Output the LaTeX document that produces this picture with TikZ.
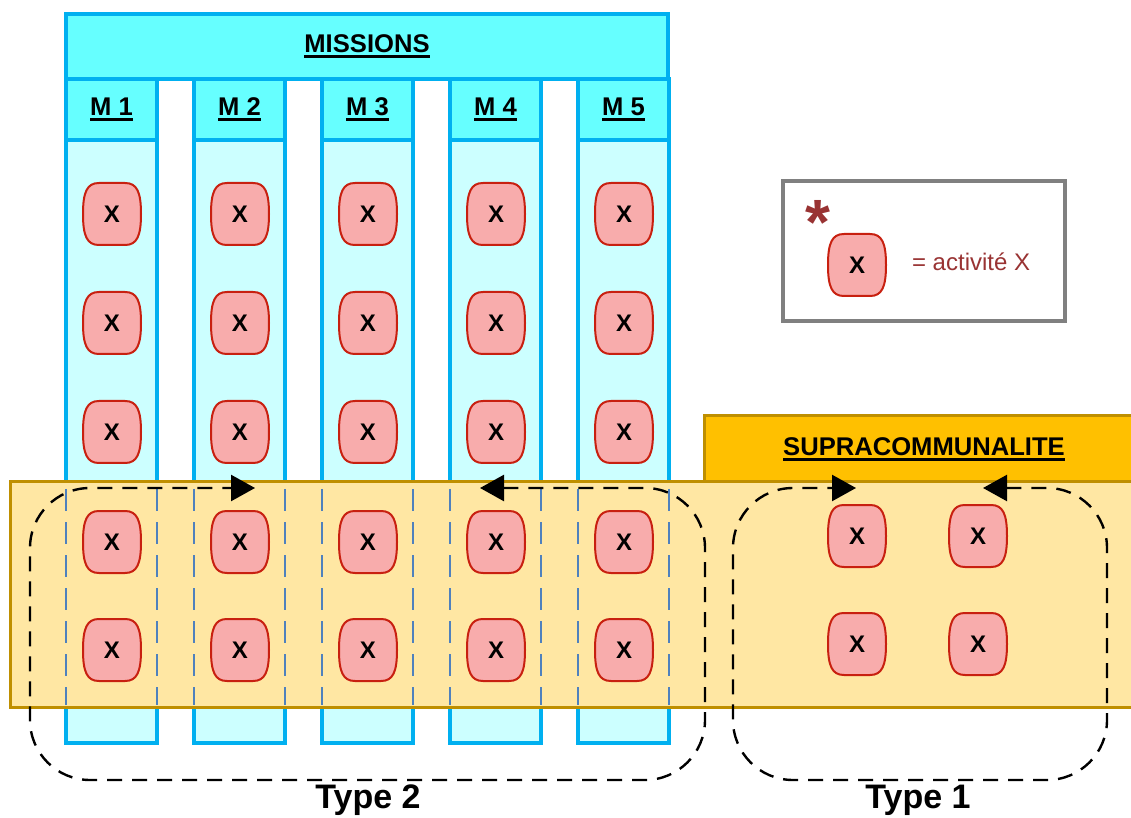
\documentclass[tikz,border=0pt]{standalone}
\usepackage{fontspec}
\setmainfont{Liberation Sans}
\usetikzlibrary{arrows.meta}

\definecolor{misshead}{HTML}{66FFFF}
\definecolor{misslight}{HTML}{CCFFFF}
\definecolor{missline}{HTML}{00B0F0}
\definecolor{actfill}{HTML}{F8ACAC}
\definecolor{actline}{HTML}{C82010}
\definecolor{bandfill}{HTML}{FFE7A3}
\definecolor{bandline}{HTML}{BF8F00}
\definecolor{suprafill}{HTML}{FFC000}
\definecolor{colsep}{HTML}{4F81BD}
\definecolor{legline}{HTML}{808080}
\definecolor{legtext}{HTML}{993333}

% titre souligne epais
\newcommand{\hdr}[1]{\setbox0\hbox{#1}\rlap{\rule[-2.6pt]{\wd0}{1.3pt}}\box0}

% activite : forme en tonneau + lettre X
\newcommand{\activite}[2]{%
	\draw[actshape, shift={(#2)}] (-13,-31) -- (13,-31)
		.. controls (25,-31) and (29,-22) .. (29,0)
		.. controls (29,22) and (25,31) .. (13,31) -- (-13,31)
		.. controls (-25,31) and (-29,22) .. (-29,0)
		.. controls (-29,-22) and (-25,-31) .. cycle;
	\node[act] (#1) at (#2) {X};}

\begin{document}
\begin{tikzpicture}[x=0.5pt,y=-0.5pt,
	actshape/.style={draw=actline, fill=actfill, line width=1pt},
	act/.style={inner sep=0pt, font=\fontsize{12}{14}\selectfont\bfseries},
	colhead/.style={draw=missline, fill=misshead, line width=2pt,
		minimum width=45.5pt, minimum height=30.5pt, inner sep=0pt,
		font=\fontsize{12.8}{15}\selectfont\bfseries},
	title/.style={font=\fontsize{12.8}{15}\selectfont\bfseries},
	loop/.style={black, line width=1.2pt, dash pattern=on 7.5pt off 5pt,
		rounded corners=30pt, {Triangle[length=12pt,width=13pt]}-{Triangle[length=12pt,width=13pt]}},
	typelbl/.style={font=\fontsize{17}{20}\selectfont\bfseries}]
	
	\useasboundingbox (0,0) rectangle (1131,818);
	
	% Colonnes des missions
	\foreach \i in {1,...,5} {
		\pgfmathsetmacro{\xl}{66+128*(\i-1)}
		\draw[missline, fill=misslight, line width=2pt] (\xl,140) rectangle (\xl+91,743);
		\node[colhead] (m\i) at (\xl+45.5,109.5) {\hdr{M \i}};
	}
	
	% Bandeau des missions
	\node[colhead, minimum width=301pt, minimum height=32.5pt] (missions) at (367,46.5) {\hdr{MISSIONS}};
	
	% Supracommunalite
	\draw[bandline, fill=suprafill, line width=1.5pt] (704,416) rectangle (1145,482);
	\node[title] (supra) at (924,449) {\hdr{SUPRACOMMUNALITE}};
	
	% Bande commune
	\draw[bandline, fill=bandfill, line width=1.5pt] (10,482) rectangle (1145,707);
	\foreach \i in {1,...,5} {
		\pgfmathsetmacro{\xl}{66+128*(\i-1)}
		\draw[colsep, line width=1pt, dash pattern=on 11pt off 5.5pt, dash phase=-2pt] (\xl,485) -- (\xl,705);
		\draw[colsep, line width=1pt, dash pattern=on 11pt off 5.5pt, dash phase=-2pt] (\xl+91,485) -- (\xl+91,705);
	}
	
	% Activites des missions
	\foreach \i in {1,...,5} {
		\foreach \r/\y in {1/214,2/323,3/432,4/542,5/650} {
			\activite{a\i\r}{112+128*\i-128,\y}
		}
	}
	
	% Activites supracommunales
	\activite{s11}{857,536}
	\activite{s21}{978,536}
	\activite{s12}{857,644}
	\activite{s22}{978,644}
	
	% Boucles Type 2 et Type 1
	\coordinate (t2a) at (480,488);
	\coordinate (t2b) at (255,488);
	\coordinate (t1a) at (983,488);
	\coordinate (t1b) at (856,488);
	\draw[loop] (t2a) -- (705,488) -- (705,780) -- (30,780) -- (30,488) -- (t2b);
	\draw[loop] (t1a) -- (1107,488) -- (1107,780) -- (733,780) -- (733,488) -- (t1b);
	\node[typelbl] (type2) at (368,800) {Type 2};
	\node[typelbl] (type1) at (918,800) {Type 1};
	
	% Legende
	\draw[legline, fill=white, line width=2pt] (783,181) rectangle (1065,321);
	\node[legtext, font=\fontsize{32}{32}\selectfont\bfseries] (star) at (818,222) {*};
	\activite{legact}{857,265}
	\node[legtext, anchor=west, font=\fontsize{12}{15}\selectfont] (legtxt) at (905,262) {= activité X};
	
\end{tikzpicture}
\end{document}
